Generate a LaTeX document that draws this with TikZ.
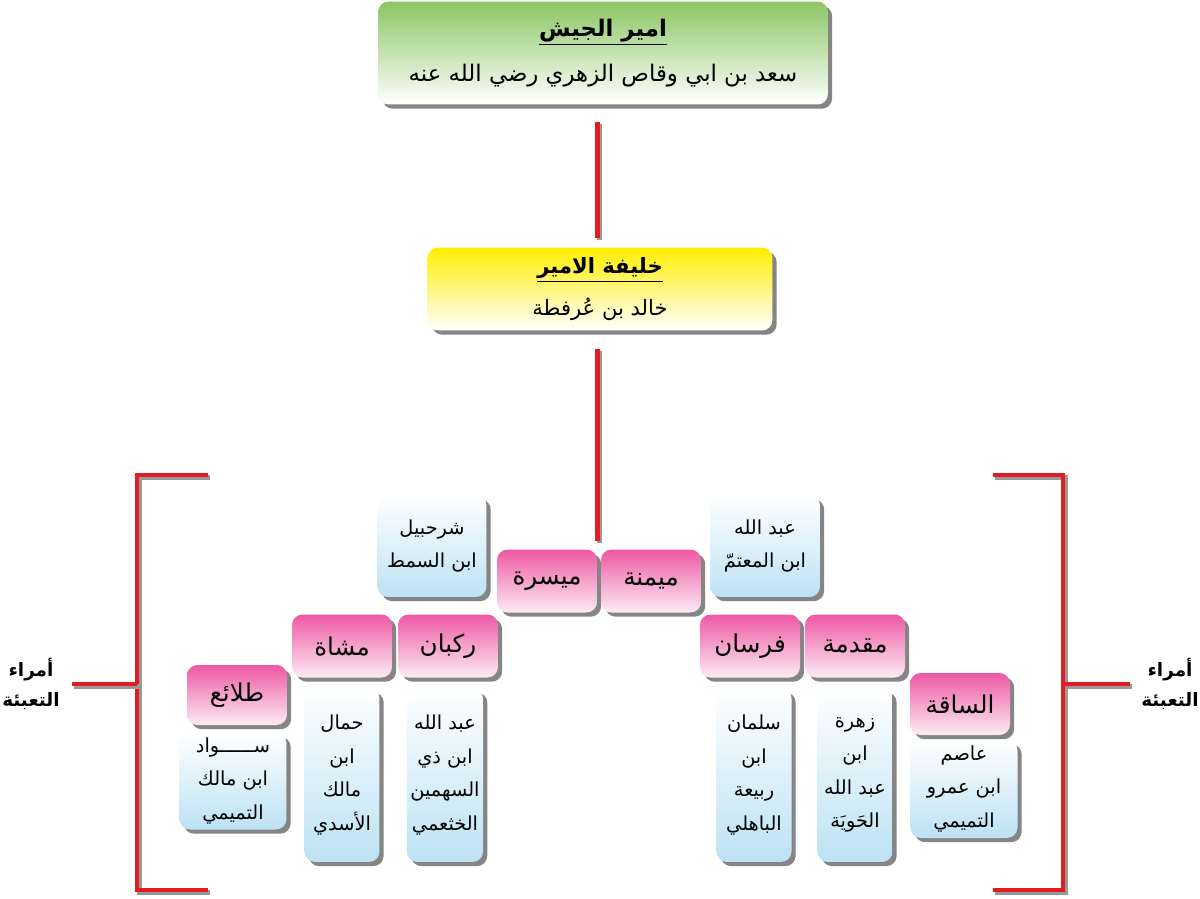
\documentclass[tikz,border=0pt]{standalone}
\usepackage{fontspec}
\newfontfamily\arabicfont[Script=Arabic]{DejaVu Sans}
\TeXXeTstate=1
\usetikzlibrary{positioning,shadows}
\definecolor{amirgreen}{RGB}{140,198,100}
\definecolor{khalyellow}{RGB}{255,238,0}
\definecolor{unitpink}{RGB}{238,88,164}
\definecolor{unitpinklight}{RGB}{252,236,244}
\definecolor{nameblue}{RGB}{188,226,244}
\definecolor{linered}{RGB}{228,28,34}
\newcommand{\artxt}[1]{{\arabicfont\beginR #1\endR}}
\newcommand{\arbold}[1]{{\arabicfont\bfseries\beginR #1\endR}}

\begin{document}
\begin{tikzpicture}[x=0.02cm,y=-0.02cm,every node/.style={text=black},
  shadebox/.style={rounded corners=6pt,align=center,inner sep=2pt,drop shadow={shadow xshift=2.4pt,shadow yshift=-2.4pt,fill=black!80,opacity=.6}},
  amirbox/.style={shadebox,top color=amirgreen,bottom color=white,minimum width=9cm,minimum height=2.06cm,font=\fontsize{13}{26}\selectfont},
  khalbox/.style={shadebox,top color=khalyellow,bottom color=white,minimum width=6.9cm,minimum height=1.66cm,font=\fontsize{12}{24}\selectfont},
  unitbox/.style={shadebox,top color=unitpink,bottom color=unitpinklight,minimum width=2cm,minimum height=1.26cm,font=\fontsize{14}{16}\selectfont},
  namebox/.style={shadebox,top color=white,bottom color=nameblue,font=\fontsize{11}{19}\selectfont},
  redline/.style={draw=linered,line width=2.8pt,preaction={draw=black!40,line width=2.8pt,transform canvas={shift={(1.3pt,-1.3pt)}}}},
  bracket/.style={redline,line width=2.2pt,preaction={line width=2.2pt}},
  lbl/.style={align=center,font=\fontsize{10.5}{17}\selectfont}]
\useasboundingbox (0,0) rectangle (1200,899);
% command
\node[amirbox] (amir) at (603,53) {\underline{\arbold{امير الجيش}}\\\artxt{سعد بن ابي وقاص الزهري رضي الله عنه}};
\node[khalbox] (khalifa) at (600,289) {\underline{\arbold{خليفة الامير}}\\\artxt{خالد بن عُرفطة}};
% wings
\node[unitbox] (maysara) at (547,581) {\artxt{ميسرة}};
\node[unitbox] (maymana) at (651,581) {\artxt{ميمنة}};
\node[namebox,minimum width=2.18cm,minimum height=2.04cm] (shurahbil) at (432,546) {\artxt{شرحبيل}\\\artxt{ابن السمط}};
\node[namebox,minimum width=2.2cm,minimum height=2.04cm] (abdmutamm) at (765,546) {\artxt{عبد الله}\\\artxt{ابن المعتمّ}};
% left units
\node[unitbox] (rukban) at (448,646) {\artxt{ركبان}};
\node[unitbox] (mushat) at (342,646) {\artxt{مشاة}};
\node[unitbox,minimum height=1.2cm] (talai) at (237,695) {\artxt{طلائع}};
\node[namebox,minimum width=1.5cm,minimum height=3.48cm] (khathami) at (445,775) {\artxt{عبد الله}\\\artxt{ابن ذي}\\\artxt{السهمين}\\\artxt{الخثعمي}};
\node[namebox,minimum width=1.5cm,minimum height=3.48cm] (hammal) at (342,775) {\artxt{حمال}\\\artxt{ابن}\\\artxt{مالك}\\\artxt{الأسدي}};
\node[namebox,minimum width=2.14cm,minimum height=1.94cm] (sawad) at (233,781) {\artxt{ســــــواد}\\\artxt{ابن مالك}\\\artxt{التميمي}};
% right units
\node[unitbox] (fursan) at (750,646) {\artxt{فرسان}};
\node[unitbox] (muqaddima) at (855,646) {\artxt{مقدمة}};
\node[unitbox,minimum height=1.24cm] (saqa) at (960,704) {\artxt{الساقة}};
\node[namebox,minimum width=1.5cm,minimum height=3.48cm] (salman) at (754,775) {\artxt{سلمان}\\\artxt{ابن}\\\artxt{ربيعة}\\\artxt{الباهلي}};
\node[namebox,minimum width=1.5cm,minimum height=3.48cm] (zuhra) at (855,775) {\artxt{زهرة}\\\artxt{ابن}\\\artxt{عبد الله}\\\artxt{الحَويَة}};
\node[namebox,minimum width=2.14cm,minimum height=1.96cm] (asim) at (964,789) {\artxt{عاصم}\\\artxt{ابن عمرو}\\\artxt{التميمي}};
% stem
\draw[redline,shorten <=0.34cm,shorten >=0.18cm] (amir.south -| maysara.east) -- (khalifa.north -| maysara.east);
\draw[redline,shorten <=0.36cm,shorten >=0.16cm] (khalifa.south -| maysara.east) -- (maysara.north east);
% brackets
\node[lbl] (leftlbl) at (31,684) {\arbold{أمراء}\\\arbold{التعبئة}};
\node[lbl] (rightlbl) at (1170,684) {\arbold{أمراء}\\\arbold{التعبئة}};
\coordinate (lt) at (208,475); \coordinate (lc) at (137,684); \coordinate (lb) at (208,890);
\coordinate (rt) at (993,475); \coordinate (rc) at (1063,684); \coordinate (rb) at (993,890);
\draw[bracket] (lt) -| (lc) |- (lb);
\draw[bracket] (rt) -| (rc) |- (rb);
\draw[bracket] (lc) -- ++(-65,0);
\draw[bracket] (rc) -- ++(67,0);
\end{tikzpicture}
\end{document}
